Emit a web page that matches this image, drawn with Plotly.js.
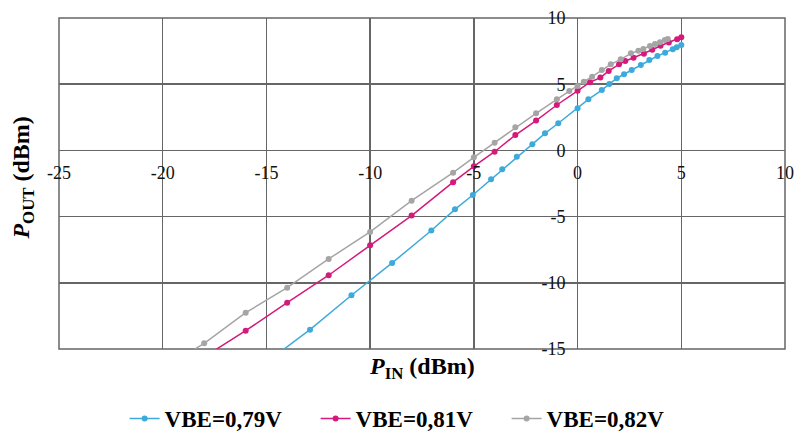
<!DOCTYPE html>
<html>
<head>
<meta charset="utf-8">
<script src="https://cdn.plot.ly/plotly-3.0.1.min.js"></script>
<style>html,body{margin:0;padding:0;background:#fff;}#chart{width:795px;height:434px;}</style>
</head>
<body>
<div id="chart"></div>
<script>
// Series names
const seriesNames = ["VBE=0,79V", "VBE=0,81V", "VBE=0,82V"];

// VBE = 0.79 V
const pin079 = [-15, -12.9, -10.9, -8.94, -7.05, -5.91, -5.05, -4.17, -3.63, -2.93, -2.18, -1.57, -0.93, 0, 0.52, 1.17, 1.53, 1.89, 2.24, 2.61, 3.05, 3.46, 3.85, 4.22, 4.59, 4.78, 5.0];
const pout079 = [-16.0, -13.54, -10.94, -8.5, -6.05, -4.45, -3.37, -2.18, -1.43, -0.48, 0.46, 1.29, 2.05, 3.18, 3.86, 4.56, 5.02, 5.45, 5.75, 6.07, 6.45, 6.83, 7.13, 7.38, 7.64, 7.79, 7.96];

// VBE = 0.81 V
const pin081 = [-18, -16, -14, -12, -10, -8, -6, -5, -4, -3, -2, -1, 0, 0.6, 1.1, 1.5, 2.0, 2.3, 2.7, 3.2, 3.6, 4.0, 4.4, 4.8, 5.0];
const pout081 = [-15.6, -13.62, -11.5, -9.43, -7.17, -4.92, -2.4, -1.2, -0.1, 1.16, 2.25, 3.43, 4.5, 5.15, 5.5, 6.0, 6.5, 6.75, 7.0, 7.3, 7.6, 7.9, 8.15, 8.4, 8.55];

// VBE = 0.82 V
const pin082 = [-20, -18, -16, -14, -12, -10, -8, -6, -5, -4, -3, -2, -1, -0.4, 0, 0.3, 0.7, 1.17, 1.6, 2.08, 2.57, 2.93, 3.17, 3.49, 3.73, 3.97, 4.21, 4.35];
const pout082 = [-16.5, -14.57, -12.26, -10.37, -8.2, -6.16, -3.8, -1.68, -0.52, 0.58, 1.74, 2.8, 3.86, 4.49, 4.86, 5.19, 5.57, 6.07, 6.5, 6.88, 7.33, 7.53, 7.66, 7.89, 8.04, 8.17, 8.34, 8.42];

// Axis ticks
const xTicks = [-25, -20, -15, -10, -5, 0, 5, 10];
const yTicks = [-15, -10, -5, 0, 5, 10];

const colors = ["#3DAADC", "#D41A7B", "#A5A5A5"];
const xs = [pin079, pin081, pin082];
const ys = [pout079, pout081, pout082];

const serif = "Liberation Serif, serif";

const traces = seriesNames.map((n, i) => ({
  type: "scatter",
  mode: "lines+markers",
  name: n,
  x: xs[i],
  y: ys[i],
  line: {color: colors[i], width: 1.5},
  marker: {color: colors[i], size: 6}
}));

const layout = {
  width: 795, height: 434,
  margin: {l: 59, r: 10, t: 18, b: 85, autoexpand: false},
  paper_bgcolor: "#fff", plot_bgcolor: "#fff",
  showlegend: true,
  legend: {
    orientation: "h", x: 0.485, xanchor: "center", y: -0.21, yanchor: "middle",
    font: {family: serif, size: 23, color: "#000", weight: "bold"},
    itemwidth: 30, entrywidth: 146, traceorder: "normal"
  },
  xaxis: {
    range: [-25, 10], tickvals: xTicks, ticktext: xTicks.map(String),
    showgrid: true, gridcolor: "#666", gridwidth: 1.5,
    zeroline: false, showline: false, ticks: "",
    anchor: "free", position: 0.6,
    ticklabelstandoff: 10,
    tickfont: {family: serif, size: 18, color: "#111"}
  },
  yaxis: {
    range: [-15, 10], tickvals: yTicks, ticktext: yTicks.map(String),
    showgrid: true, gridcolor: "#666", gridwidth: 1.5,
    zeroline: false, showline: false, ticks: "",
    anchor: "free", position: 25 / 35,
    ticklabelstandoff: 12,
    tickfont: {family: serif, size: 18, color: "#111"}
  },
  shapes: [
    {type: "rect", xref: "paper", yref: "paper", x0: 0, x1: 1, y0: 0, y1: 1,
     line: {color: "#666", width: 1.5}, layer: "below"}
  ],
  annotations: [
    {
      text: "<b><i>P</i><sub>IN</sub> (dBm)</b>",
      xref: "paper", yref: "paper", x: 0.5, y: -0.058,
      xanchor: "center", yanchor: "middle", showarrow: false,
      font: {family: serif, size: 24, color: "#000"}
    },
    {
      text: "<b><i>P</i><sub>OUT</sub> (dBm)</b>",
      xref: "paper", yref: "paper", x: -0.05, y: 0.517,
      xanchor: "center", yanchor: "middle", showarrow: false, textangle: -90,
      font: {family: serif, size: 24, color: "#000"}
    }
  ]
};

Plotly.newPlot("chart", traces, layout, {displayModeBar: false, staticPlot: true});
</script>
</body>
</html>
